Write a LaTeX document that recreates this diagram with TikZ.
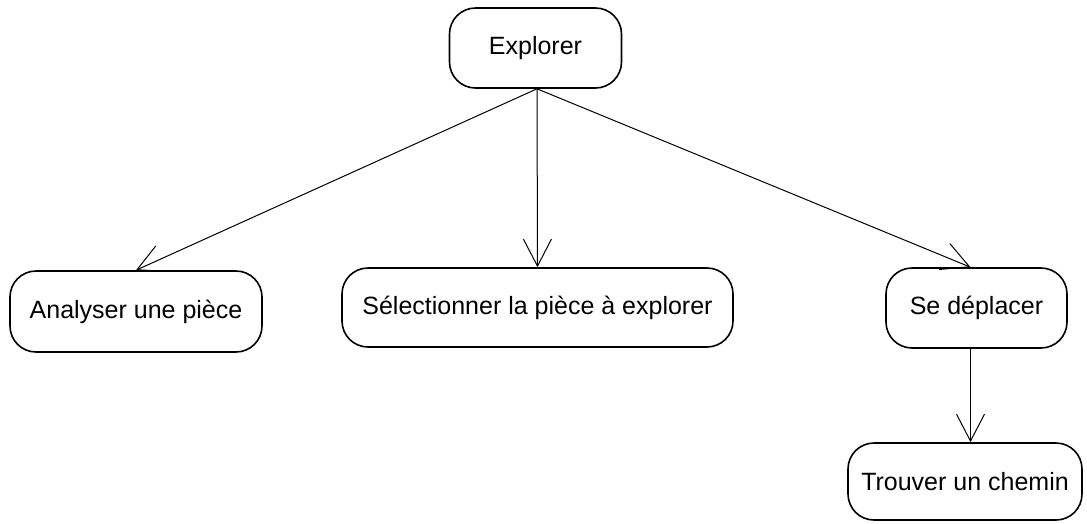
\documentclass[tikz,border=0pt]{standalone}
\usepackage{fontspec}
\setmainfont{Liberation Sans}
\usetikzlibrary{arrows.meta}

\begin{document}
\begin{tikzpicture}[x=1pt, y=-1pt,
    etat/.style={draw, rounded corners=26pt, line width=1.6pt, inner sep=0pt,
      font=\fontsize{25}{30}\selectfont},
    fleche/.style={line width=1pt, -{Straight Barb[length=27pt, width=28pt, line width=1pt]}}]
  \useasboundingbox (0, 0) rectangle (1087, 523);
  \node (explorer) at (535.5, 48) [etat, minimum width=172pt, minimum height=80pt] {Explorer};
  \node (analyser) at (136, 311.5) [etat, minimum width=252pt, minimum height=81pt] {Analyser une pièce};
  \node (selection) at (537.5, 307.5) [etat, minimum width=391pt, minimum height=79pt] {Sélectionner la pièce à explorer};
  \node (deplacer) at (976.5, 308) [etat, minimum width=181pt, minimum height=80pt] {Se déplacer};
  \node (chemin) at (965, 481.5) [etat, minimum width=234pt, minimum height=77pt] {Trouver un chemin};
  \draw [fleche] ([xshift=1.5pt]explorer.south) -- (analyser.north);
  \draw [fleche] ([xshift=1.5pt]explorer.south) -- (selection.north);
  \draw [fleche] ([xshift=1.5pt]explorer.south) -- ([xshift=-6pt]deplacer.north);
  \draw [fleche] ([xshift=-6pt]deplacer.south) -- ([xshift=-6pt]deplacer.south |- chemin.north);
\end{tikzpicture}
\end{document}
